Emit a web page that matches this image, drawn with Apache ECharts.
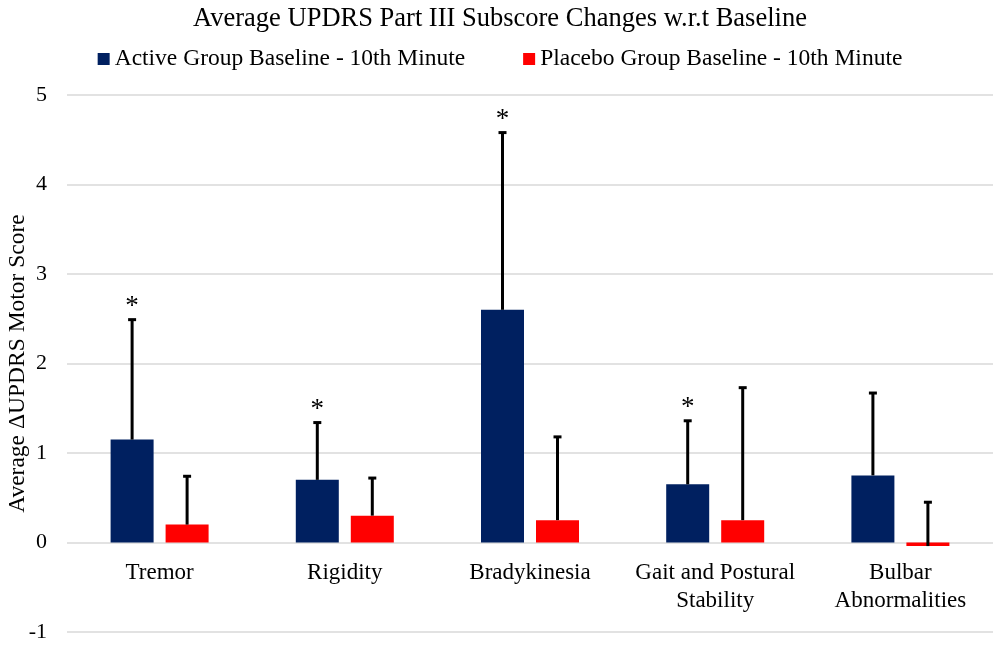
<!DOCTYPE html>
<html>
<head>
<meta charset="utf-8">
<script src="https://cdn.jsdelivr.net/npm/echarts@6/dist/echarts.min.js"></script>
<style>
  html,body{margin:0;padding:0;background:#fff;}
  #chart{width:1000px;height:645px;}
</style>
</head>
<body>
<div id="chart"></div>
<script>
// categories and values
var categories = ['Tremor', 'Rigidity', 'Bradykinesia', 'Gait and Postural\nStability', 'Bulbar\nAbnormalities'];
var activeValues = [1.15, 0.70, 2.60, 0.65, 0.75];
var activeErr = [1.34, 0.64, 1.98, 0.71, 0.92];
var placeboValues = [0.20, 0.30, 0.25, 0.25, -0.04];
var placeboErr = [0.54, 0.42, 0.93, 1.48, 0.49];
var activeSig = [true, true, true, true, false];
var placeboSig = [false, false, false, false, false];
var yTicks = [-1, 0, 1, 2, 3, 4, 5];

var FONT = '"Liberation Serif", "DejaVu Serif", serif';
var BAR_W = 43;
var BAR_GAP = 12;
var GRID_TOP = 95, GRID_BOTTOM = 13, H = 645;

function errData(vals, errs, sig){
    return vals.map(function(v, i){
        return [i, v, v + errs[i], sig[i] ? 1 : 0];
    });
}

// error bar drawn at the bar's centre
function errRender(offset){
    return function(params, api){
        var i = api.value(0);
        var base = api.coord([i, api.value(1)]);
        var top = api.coord([i, api.value(2)]);
        var x = base[0] + offset;
        var kids = [
            {type:'line', shape:{x1:x, y1:base[1], x2:x, y2:top[1]}, style:{stroke:'#000', lineWidth:3}},
            {type:'line', shape:{x1:x-4, y1:top[1], x2:x+4, y2:top[1]}, style:{stroke:'#000', lineWidth:3}}
        ];
        if(api.value(3)){
            kids.push({type:'text', x:x, y:top[1]+1, style:{text:'*', fontFamily:FONT, fontSize:27, fill:'#000', align:'center', verticalAlign:'bottom'}});
        }
        return {type:'group', children:kids};
    };
}

var off = (BAR_W + BAR_GAP) / 2;
// distance from the bottom of the grid up to the zero line
var unitPx = (H - GRID_TOP - GRID_BOTTOM) / (yTicks[yTicks.length - 1] - yTicks[0]);
var zeroShift = (0 - yTicks[0]) * unitPx;

var myChart = echarts.init(document.getElementById('chart'));
var option = {
    animation: false,
    title: {
        text: 'Average UPDRS Part III Subscore Changes w.r.t Baseline',
        left: 'center',
        top: 1,
        textStyle: {fontFamily: FONT, fontSize: 26.5, fontWeight: 'normal', color: '#000'}
    },
    legend: {
        data: ['Active Group Baseline - 10th Minute', 'Placebo Group Baseline - 10th Minute'],
        top: 42,
        left: 'center',
        itemWidth: 12,
        itemHeight: 12,
        itemGap: 58,
        icon: 'rect',
        textStyle: {fontFamily: FONT, fontSize: 23.5, color: '#000'}
    },
    grid: {left: 67, right: 7, top: GRID_TOP, bottom: GRID_BOTTOM, containLabel: false, outerBoundsMode: 'none'},
    xAxis: {
        type: 'category',
        data: categories,
        offset: -zeroShift,
        axisLine: {show: false, onZero: false},
        axisTick: {show: false},
        axisLabel: {fontFamily: FONT, fontSize: 23, color: '#000', margin: 16, lineHeight: 28, interval: 0}
    },
    yAxis: {
        type: 'value',
        min: yTicks[0],
        max: yTicks[yTicks.length - 1],
        interval: 1,
        name: 'Average \u0394UPDRS Motor Score',
        nameLocation: 'middle',
        nameGap: 37,
        nameMoveOverlap: false,
        nameTextStyle: {fontFamily: FONT, fontSize: 23.5, color: '#000'},
        axisLine: {show: false},
        axisTick: {show: false},
        axisLabel: {fontFamily: FONT, fontSize: 22, color: '#000', margin: 20},
        splitLine: {lineStyle: {color: '#d9d9d9', width: 1.5}}
    },
    series: [
        {
            name: 'Active Group Baseline - 10th Minute',
            type: 'bar',
            data: activeValues,
            barWidth: BAR_W,
            barGap: (BAR_GAP / BAR_W * 100) + '%',
            itemStyle: {color: '#002060'}
        },
        {
            name: 'Placebo Group Baseline - 10th Minute',
            type: 'bar',
            data: placeboValues,
            barWidth: BAR_W,
            itemStyle: {color: '#ff0000'}
        },
        {
            type: 'custom',
            renderItem: errRender(-off),
            data: errData(activeValues, activeErr, activeSig),
            encode: {x: 0, y: [1, 2]},
            z: 10
        },
        {
            type: 'custom',
            renderItem: errRender(off),
            data: errData(placeboValues, placeboErr, placeboSig),
            encode: {x: 0, y: [1, 2]},
            z: 10
        }
    ]
};
myChart.setOption(option);
</script>
</body>
</html>
